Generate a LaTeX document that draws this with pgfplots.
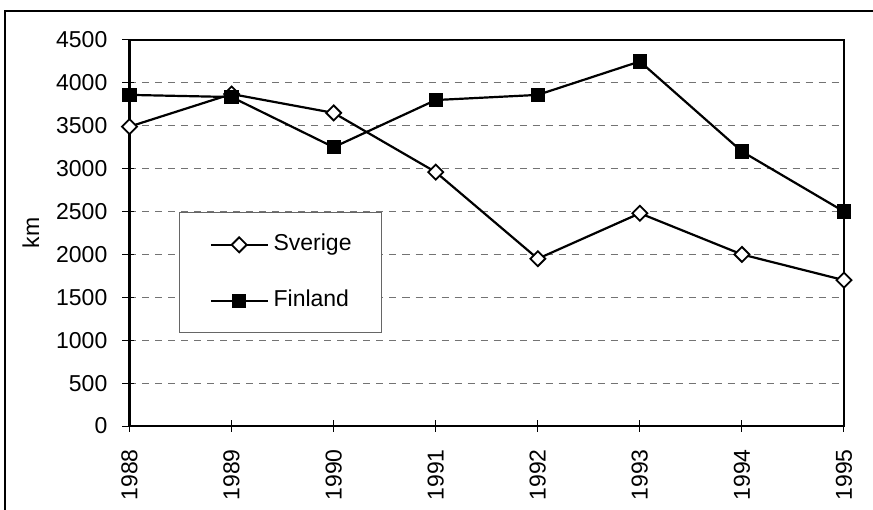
\documentclass[border=0pt]{standalone}
\usepackage{pgfplots}
\pgfplotsset{compat=1.18}
\usepackage{fontspec}
\setmainfont{Liberation Sans}

\pgfplotstableread{
year sverige finland
1988 3490 3860
1989 3870 3835
1990 3650 3250
1991 2960 3800
1992 1950 3860
1993 2480 4250
1994 2000 3200
1995 1700 2500
}\datatable

\begin{document}
\begin{tikzpicture}
\begin{axis}[
  scale only axis, width=714.5bp, height=386bp,
  xmin=1988, xmax=1995, ymin=0, ymax=4500,
  xtick={1988,...,1995}, ytick={0,500,...,4500},
  /pgf/number format/1000 sep={},
  /pgf/number format/assume math mode=true,
  font=\fontsize{23bp}{27bp}\selectfont,
  tick label style={font=\fontsize{23bp}{27bp}\selectfont},
  axis line style={line width=2.5bp, black},
  xtick pos=bottom, ytick pos=left,
  major tick length=12bp,
  xtick align=center, ytick align=outside,
  major tick style={line width=1bp, black},
  ytick style={xshift=4.5bp},
  ymajorgrids,
  major grid style={black!55, line width=1bp, dash pattern=on 7bp off 6bp},
  yticklabel style={anchor=east, inner sep=0pt},
  xticklabel style={rotate=90, anchor=east, inner sep=0pt},
  xticklabel shift=17bp,
  yticklabel shift=10bp,
  ylabel={km},
  every axis y label/.style={at={(rel axis cs:-0.1381,0.5)}, rotate=90, anchor=center},
  clip=false,
  legend style={at={(rel axis cs:0.0697,0.5536)}, anchor=north west,
    draw=black!60, line width=1bp, fill=white,
    inner xsep=30bp, inner ysep=21bp, row sep=34bp, column sep=5bp,
    font=\fontsize{23bp}{27bp}\selectfont,
    nodes={inner sep=0pt, text height=17bp, text depth=5bp}},
  legend cell align=left,
  legend image code/.code={\draw[mark repeat=2, mark phase=2] plot coordinates {(0bp,0bp) (28.3bp,0bp) (56.6bp,0bp)};},
]
\addplot[black, line width=2.2bp, mark=square*, mark size=5.3bp,
  mark options={rotate=45, fill=white, line width=1.8bp}] table[x=year, y=sverige] {\datatable};
\addlegendentry{Sverige}
\addplot[black, line width=2.2bp, mark=square*, mark size=6.6bp,
  mark options={fill=black, line width=1bp}] table[x=year, y=finland] {\datatable};
\addlegendentry{Finland}
\draw[line width=2.5bp, black] (rel axis cs:-0.1742,-0.4) -- (rel axis cs:-0.1742,1.0751) -- (rel axis cs:1.2,1.0751);
\coordinate (bbsw) at (rel axis cs:-0.18124,-0.21762);
\coordinate (bbne) at (rel axis cs:1.04059,1.10363);
\end{axis}
\pgfresetboundingbox
\useasboundingbox (bbsw) rectangle (bbne);
\end{tikzpicture}
\end{document}
